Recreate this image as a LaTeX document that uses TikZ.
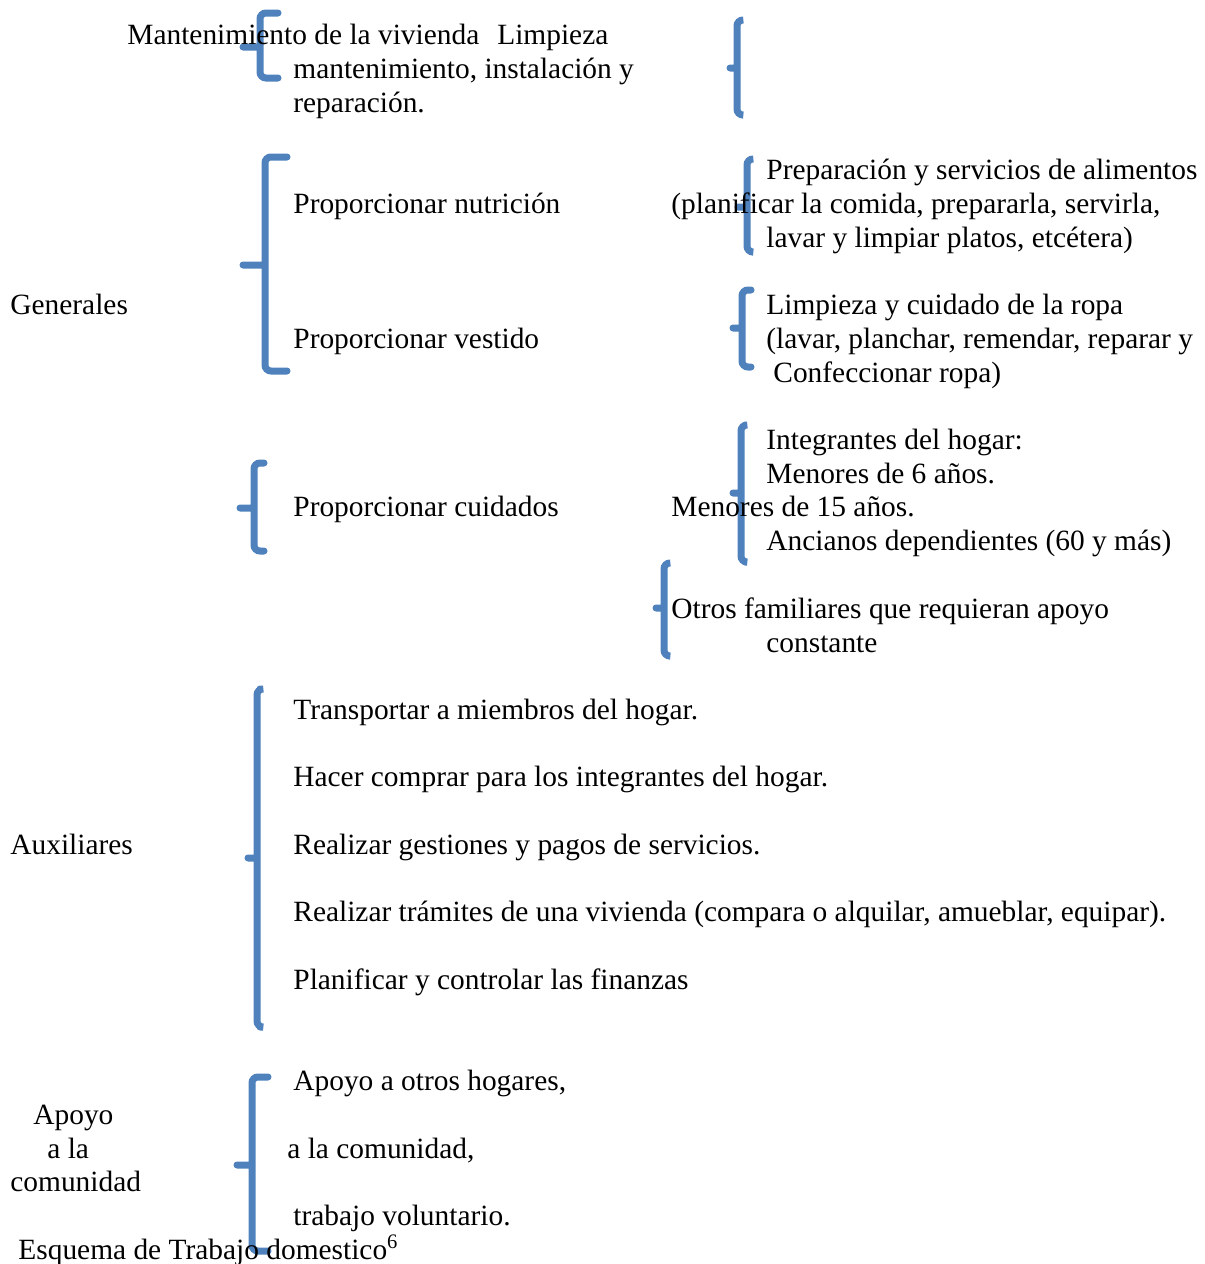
\documentclass[tikz,border=0pt]{standalone}
\usepackage{fontspec}
\setmainfont{Liberation Serif}
\definecolor{llaveazul}{HTML}{4F81BD}

\tikzstyle{txt}=[anchor=base west, inner sep=0pt, font=\fontsize{14.7pt}{17pt}\selectfont]
\tikzstyle{llave}=[draw=llaveazul, line width=3.5pt, line cap=round, rounded corners=3pt]

\begin{document}
\begin{tikzpicture}[x=0.5pt, y=-0.5pt]
      \useasboundingbox (0,0) rectangle (1205,1264);

      % braces
      \draw[llave] (278,13) -- (260,13) -- (260,78) -- (278,78) (260,47) -- (243,47);
      \draw[llave] (742,20) -- (737,20) -- (737,115) -- (742,115) (737,68) -- (730,68);
      \draw[llave] (287,157) -- (265,157) -- (265,371) -- (287,371) (265,265) -- (243,265);
      \draw[llave] (752,159) -- (747,159) -- (747,252) -- (752,252) (747,207) -- (738,207);
      \draw[llave] (751,290) -- (742,290) -- (742,367) -- (751,367) (742,328) -- (733,328);
      \draw[llave] (264,463) -- (254,463) -- (254,551) -- (264,551) (254,508) -- (240,508);
      \draw[llave] (745,425) -- (741,425) -- (741,562) -- (745,562) (741,493) -- (733,493);
      \draw[llave] (669,563) -- (664,563) -- (664,656) -- (669,656) (664,608) -- (656,608);
      \draw[llave] (260,689) -- (257,689) -- (257,1027) -- (260,1027) (257,858) -- (248,858);
      \draw[llave] (268,1077) -- (252,1077) -- (252,1251) -- (268,1251) (252,1165) -- (237,1165);

      % vivienda
      \node[txt] (viv) at (127,44) {Mantenimiento de la vivienda\hspace{9pt}Limpieza};
      \node[txt] (viv2) at (293,78) {mantenimiento, instalación y};
      \node[txt] (viv3) at (293,112) {reparación.};

      % generales
      \node[txt] (gen) at (10,314) {Generales};
      \node[txt] (nut) at (293,213) {Proporcionar nutrición};
      \node[txt] (ves) at (293,348) {Proporcionar vestido};
      \node[txt] (ali1) at (766,179) {Preparación y servicios de alimentos};
      \node[txt] (ali2) at (671,213) {(planificar la comida, prepararla, servirla,};
      \node[txt] (ali3) at (766,247) {lavar y limpiar platos, etcétera)};
      \node[txt] (rop1) at (766,314) {Limpieza y cuidado de la ropa};
      \node[txt] (rop2) at (766,348) {(lavar, planchar, remendar, reparar y};
      \node[txt] (rop3) at (773,382) {Confeccionar ropa)};

      % cuidados
      \node[txt] (cui) at (293,516) {Proporcionar cuidados};
      \node[txt] (int1) at (766,449) {Integrantes del hogar:};
      \node[txt] (int2) at (766,483) {Menores de 6 años.};
      \node[txt] (int3) at (671,516) {Menores de 15 años.};
      \node[txt] (int4) at (766,550) {Ancianos dependientes (60 y más)};
      \node[txt] (otr1) at (671,618) {Otros familiares que requieran apoyo};
      \node[txt] (otr2) at (766,652) {constante};

      % auxiliares
      \node[txt] (aux) at (10,854) {Auxiliares};
      \node[txt] (aux1) at (293,719) {Transportar a miembros del hogar.};
      \node[txt] (aux2) at (293,786) {Hacer comprar para los integrantes del hogar.};
      \node[txt] (aux3) at (293,854) {Realizar gestiones y pagos de servicios.};
      \node[txt] (aux4) at (293,921) {Realizar trámites de una vivienda (compara o alquilar, amueblar, equipar).};
      \node[txt] (aux5) at (293,989) {Planificar y controlar las finanzas};

      % apoyo
      \node[txt] (apo1) at (33,1124) {Apoyo};
      \node[txt] (apo2) at (47,1158) {a la};
      \node[txt] (apo3) at (10,1191) {comunidad};
      \node[txt] (com1) at (293,1090) {Apoyo a otros hogares,};
      \node[txt] (com2) at (287,1158) {a la comunidad,};
      \node[txt] (com3) at (293,1225) {trabajo voluntario.};

      \node[txt] (tit) at (18,1259) {Esquema de Trabajo domestico\textsuperscript{6}};
    \end{tikzpicture}
\end{document}
